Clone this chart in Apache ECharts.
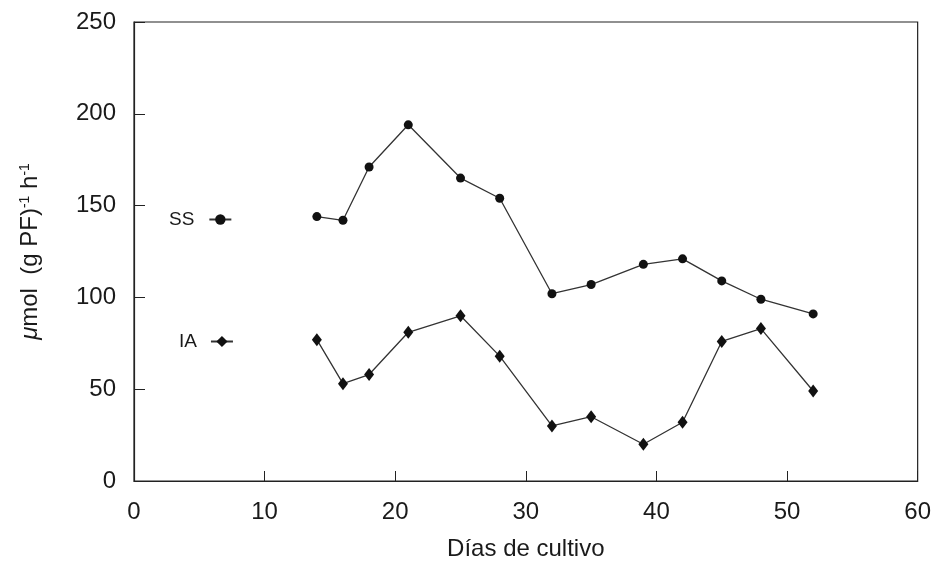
<!DOCTYPE html>
<html>
<head>
<meta charset="utf-8">
<script src="https://cdn.jsdelivr.net/npm/echarts@6/dist/echarts.min.js"></script>
<style>
  html, body { margin: 0; padding: 0; background: #fff; }
  #chart { width: 934px; height: 566px; }
</style>
</head>
<body>
<div id="chart"></div>
<script>
// días de cultivo
var dias = [14, 16, 18, 21, 25, 28, 32, 35, 39, 42, 45, 48, 52];
// SS y IA, umol (g PF)-1 h-1
var ssValues = [144, 142, 171, 194, 165, 154, 102, 107, 118, 121, 109, 99, 91];
var iaValues = [77, 53, 58, 81, 90, 68, 30, 35, 20, 32, 76, 83, 49];
var xTicks = [0, 10, 20, 30, 40, 50, 60];
var yTicks = [0, 50, 100, 150, 200, 250];

function pairs(xs, ys) {
  var out = [];
  for (var i = 0; i < xs.length; i++) out.push([xs[i], ys[i]]);
  return out;
}

var FONT = '"Liberation Sans", Arial, sans-serif';
var INK = '#1a1a1a';

var chart = echarts.init(document.getElementById('chart'));
var option = {
  backgroundColor: '#fff',
  animation: false,
  textStyle: { fontFamily: FONT, color: INK },
  grid: {
    left: 134, right: 16, top: 22, bottom: 82,
    show: true, borderColor: '#222', borderWidth: 1.2, backgroundColor: 'transparent'
  },
  legend: [
    {
      data: ['SS'], left: 164, top: 205, align: 'right', orient: 'vertical',
      itemWidth: 22, itemHeight: 13, selectedMode: false,
      textStyle: { fontFamily: FONT, fontSize: 19, color: INK, padding: [0, 10, 0, 0] }
    },
    {
      data: ['IA'], left: 174, top: 327, align: 'right', orient: 'vertical',
      itemWidth: 22, itemHeight: 14, selectedMode: false,
      textStyle: { fontFamily: FONT, fontSize: 19, color: INK, padding: [0, 9, 0, 0] }
    }
  ],
  xAxis: {
    type: 'value', min: xTicks[0], max: xTicks[xTicks.length - 1], interval: 10,
    name: 'Días de cultivo', nameLocation: 'middle', nameGap: 56,
    nameTextStyle: { fontFamily: FONT, fontSize: 24, color: INK },
    axisLine: { lineStyle: { color: '#222', width: 1.2 } },
    axisTick: { inside: true, length: 10, lineStyle: { color: '#222' } },
    axisLabel: { fontFamily: FONT, fontSize: 24, color: INK, margin: 19 },
    splitLine: { show: false }
  },
  yAxis: {
    type: 'value', min: yTicks[0], max: yTicks[yTicks.length - 1], interval: 50,
    name: '{it|μ}mol  (g PF){sup|-1} h{sup|-1}', nameLocation: 'middle', nameGap: 92,
    nameTextStyle: {
      fontFamily: FONT, fontSize: 24, color: INK,
      rich: {
        it: { fontFamily: FONT, fontSize: 24, fontStyle: 'italic', color: INK },
        sup: { fontFamily: FONT, fontSize: 14, color: INK, verticalAlign: 'top', padding: [0, 0, 9, 0] }
      }
    },
    axisLine: { lineStyle: { color: '#222', width: 1.2 } },
    axisTick: { inside: true, length: 11, lineStyle: { color: '#222' } },
    axisLabel: { fontFamily: FONT, fontSize: 24, color: INK, margin: 18 },
    splitLine: { show: false }
  },
  series: [
    {
      name: 'SS', type: 'line', data: pairs(dias, ssValues),
      symbol: 'circle', symbolSize: 9,
      itemStyle: { color: '#111' },
      lineStyle: { color: '#333', width: 1.3 }
    },
    {
      name: 'IA', type: 'line', data: pairs(dias, iaValues),
      symbol: 'diamond', symbolSize: [10, 13],
      itemStyle: { color: '#111' },
      lineStyle: { color: '#333', width: 1.3 }
    }
  ]
};
chart.setOption(option);
</script>
</body>
</html>
